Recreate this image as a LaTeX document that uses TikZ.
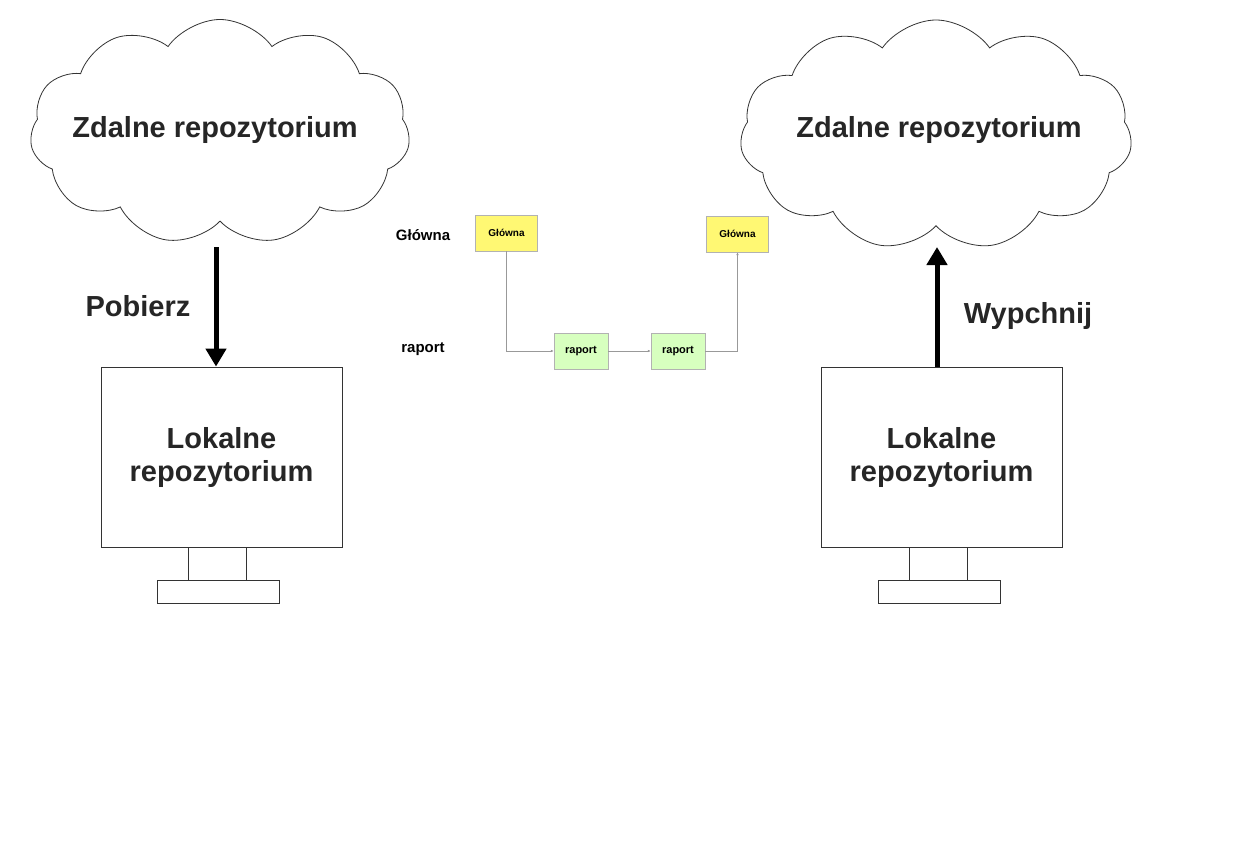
\documentclass[tikz,border=0pt]{standalone}
\usepackage{fontspec}
\setmainfont{Liberation Sans}
\usetikzlibrary{shapes.symbols,arrows.meta}
\begin{document}
\begin{tikzpicture}[x=1pt,y=-1pt,
  big/.style={font=\fontsize{29}{33}\selectfont\bfseries, text=black!85},
  mid/.style={font=\fontsize{15}{18}\selectfont\bfseries},
  cloudshape/.style={cloud, cloud puffs=11, cloud puff arc=110, aspect=1.7, draw=black!80, line width=0.8pt, inner sep=0pt},
  screen/.style={draw=black!80, line width=0.8pt, minimum width=241pt, minimum height=180pt, align=center, inner sep=0pt},
  yel/.style={draw=black!30, fill=yellow!55, minimum width=62pt, minimum height=36pt, font=\fontsize{10}{12}\selectfont\bfseries},
  grn/.style={draw=black!30, fill=green!50!lime!25, minimum width=54pt, minimum height=36pt, font=\fontsize{11}{13}\selectfont\bfseries},
  thin/.style={draw=black!40, line width=0.5pt},
  bigarrow/.style={line width=5pt, -{Triangle[length=18pt,width=20pt]}}]
\useasboundingbox (0,0) rectangle (1235,848);
\fill[white] (0,0) rectangle (1235,848);
% left
\node[cloudshape, minimum width=380pt, minimum height=225pt] (c1) at (220,132) {};
\node[big] (t1) at (215,130) {Zdalne repozytorium};
\node[screen, big] (m1) at (221.5,457) {Lokalne\\repozytorium};
\coordinate (n1a) at (188,547); \coordinate (n1b) at (246,547);
\node[draw=black!80, line width=0.8pt, minimum width=122pt, minimum height=23pt, inner sep=0pt] (b1) at (218,591.5) {};
\draw[black!80, line width=0.8pt] (n1a) -- (n1a |- b1.north) (n1b) -- (n1b |- b1.north);
\coordinate (a1s) at (216,247);
\draw[bigarrow] (a1s) -- (a1s |- m1.north);
\node[big] (p1) at (138,306) {Pobierz};
% right
\node[cloudshape, minimum width=392pt, minimum height=230pt] (c2) at (936,135) {};
\node[big] (t2) at (939,130) {Zdalne repozytorium};
\node[screen, big] (m2) at (941.5,457) {Lokalne\\repozytorium};
\coordinate (n2a) at (909,547); \coordinate (n2b) at (967,547);
\node[draw=black!80, line width=0.8pt, minimum width=122pt, minimum height=23pt, inner sep=0pt] (b2) at (939,591.5) {};
\draw[black!80, line width=0.8pt] (n2a) -- (n2a |- b2.north) (n2b) -- (n2b |- b2.north);
\coordinate (a2s) at (937,367);
\coordinate (a2e) at (937,247);
\draw[bigarrow] (a2s) -- (a2e);
\node[big] (w1) at (1028,316) {Wypchnij};
% middle
\node[mid] (lg) at (423,235) {Główna};
\node[mid] (lr) at (423,349) {raport};
\node[yel] (g1) at (506.5,233) {Główna};
\node[yel] (g2) at (737.5,234) {Główna};
\node[grn] (r1) at (581,351) {raport};
\node[grn] (r2) at (678,351) {raport};
\draw[thin, -{Latex[length=3pt,width=2.5pt]}] (g1.south) |- (r1.west);
\draw[thin, -{Latex[length=3pt,width=2.5pt]}] (r1) -- (r2);
\draw[thin, -{Latex[length=3pt,width=2.5pt]}] (r2.east) -| (g2.south);
\end{tikzpicture}
\end{document}
